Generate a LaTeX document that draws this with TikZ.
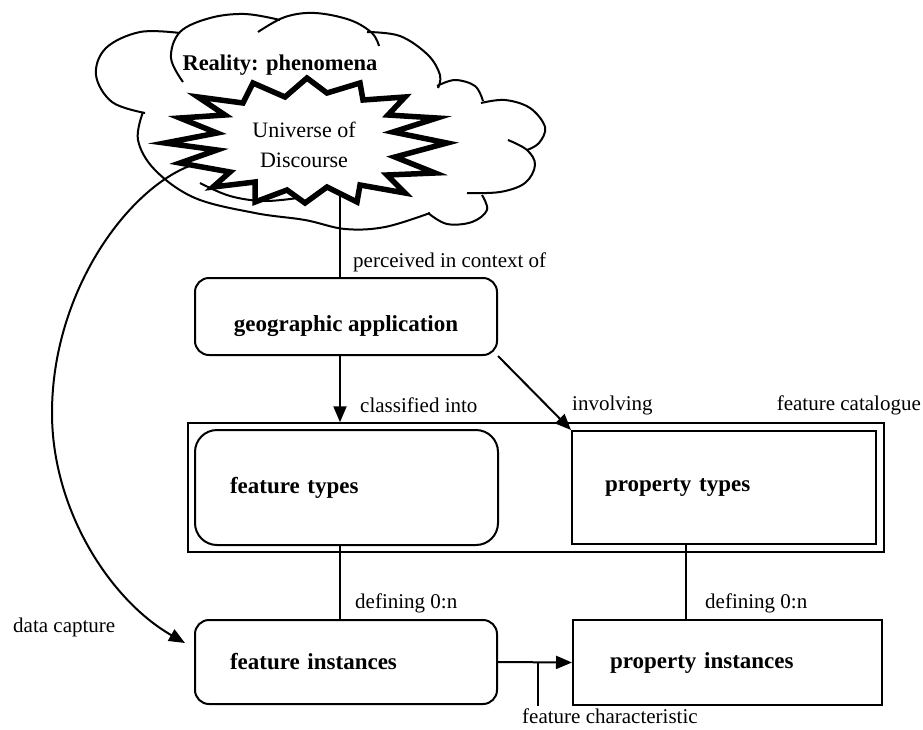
\documentclass[tikz,border=0pt]{standalone}
\usepackage{fontspec}
\setmainfont{Liberation Serif}
\usetikzlibrary{arrows.meta,calc}
\begin{document}
\begin{tikzpicture}[x=1pt,y=-1pt,
  box/.style={draw, line width=2pt, inner ysep=0pt, font=\fontsize{23}{27}\selectfont\bfseries},
  rbox/.style={box, rounded corners=14pt},
  lbl/.style={font=\fontsize{21}{24}\selectfont, anchor=west, inner sep=0pt},
  conn/.style={line width=2pt},
  arr/.style={conn, -{Triangle[length=16pt,width=13pt]}},
  lobe/.style={line width=2pt}]
\useasboundingbox (0,0) rectangle (923,729);

% cloud
\draw[lobe] plot[smooth, tension=0.6] coordinates {(180,33) (140,32) (106,48) (96,75) (112,102) (145,113)};
\draw[lobe] plot[smooth, tension=0.6] coordinates {(183,82) (171,58) (180,32) (210,18) (245,14) (280,20)};
\draw[lobe] plot[smooth, tension=0.6] coordinates {(258,32) (285,17) (315,13) (350,20) (372,33) (379,46)};
\draw[lobe] plot[smooth, tension=0.6] coordinates {(367,32) (400,36) (428,55) (440,75) (438,88)};
\draw[lobe] plot[smooth, tension=0.6] coordinates {(437,86) (455,80) (475,86) (483,101)};
\draw[lobe] plot[smooth, tension=0.6] coordinates {(481,103) (505,100) (530,108) (545,127) (539,143) (527,150)};
\draw[lobe] plot[smooth, tension=0.6] coordinates {(508,140) (527,150) (535,165) (525,183) (500,192) (467,193)};
\draw[lobe] plot[smooth, tension=0.6] coordinates {(482,195) (487,210) (472,222) (447,224) (428,213)};
\draw[lobe] plot[smooth, tension=0.6] coordinates {(143,112) (138,140) (155,170) (195,198) (255,213) (305,220) (345,229) (385,227) (430,213)};
\draw[lobe] plot[smooth, tension=0.6] coordinates {(200,183) (230,196) (265,201) (305,197)};

% starburst
\draw[line width=5.5pt, fill=white, line join=miter]
  (307,78) -- (327,93) -- (360,83) -- (363,100) -- (405,97) -- (388,115) -- (437,118) -- (393,132)
  -- (447,143) -- (395,157) -- (435,173) -- (387,175) -- (405,193) -- (360,185) -- (357,202) -- (327,187)
  -- (305,203) -- (287,190) -- (255,202) -- (255,182) -- (213,187) -- (230,172) -- (180,163) -- (217,150)
  -- (165,143) -- (217,133) -- (180,118) -- (225,115) -- (198,97) -- (243,103) -- (253,83) -- (285,97) -- cycle;

\node[font=\fontsize{22.5}{27}\selectfont\bfseries, inner sep=0pt] (real) at (280,65) {Reality: phenomena};
\node[font=\fontsize{22}{30}\selectfont, align=center, inner sep=0pt] (uod) at (304,145) {Universe of\\Discourse};

\coordinate (ub) at (340,195);
\coordinate (ds) at (195,164);
\coordinate (dce) at (185,643);

% boxes
\node[rbox, minimum width=302pt, minimum height=77pt, inner xsep=0pt, text height=36pt, text depth=6pt] (geo) at (346,316.5) {geographic application};
\node[draw, line width=1.5pt, minimum width=696pt, minimum height=129pt, inner sep=0pt] (cat) at (536,487.5) {};
\node[box, rounded corners=22pt, inner xsep=35pt, text width=233pt, align=left, minimum height=115pt] (ft) at (346.5,487.5) {feature types};
\node[box, inner xsep=33pt, text width=238pt, align=left, minimum height=113pt] (pt) at (724,487.5) {property types};
\node[rbox, inner xsep=35pt, text width=232pt, align=left, minimum height=84pt] (fi) at (346,662) {feature instances};
\node[box, inner xsep=37pt, text width=235pt, align=left, minimum height=85pt] (pi) at (727.5,662.5) {property instances};

% connectors
\draw[conn] (ub) -- (ub |- geo.north);
\draw[arr] ([xshift=-6pt]geo.south) -- ([xshift=-6pt]geo.south |- cat.north);
\draw[arr] (geo.south east) -- (pt.north west);
\draw[conn] ([xshift=-6.5pt]ft.south) -- ([xshift=-6.5pt]ft.south |- fi.north);
\coordinate (pd) at (686,500);
\draw[conn] (pd |- pt.south) -- (pd |- pi.north);
\draw[arr] (fi.east) -- (pi.west);
\coordinate (fc) at (538,662);
\coordinate (fct) at (538,706);
\draw[conn] (fc) -- (fct);
\draw[arr] (ds) .. controls (130,185) and (52,290) .. (52,413) .. controls (52,510) and (110,600) .. (dce);

% labels
\node[lbl] (l1) at (353,262) {perceived in context of};
\node[lbl] (l2) at (360,405) {classified into};
\node[lbl] (l3) at (572,405) {involving};
\node[lbl, anchor=east] (l4) at (921,405) {feature catalogue};
\node[lbl] (l5) at (355,603) {defining 0:n};
\node[lbl] (l6) at (705,603) {defining 0:n};
\node[lbl] (l7) at (13,627) {data capture};
\node[lbl] (l8) at (522,716) {feature characteristic};
\end{tikzpicture}
\end{document}
